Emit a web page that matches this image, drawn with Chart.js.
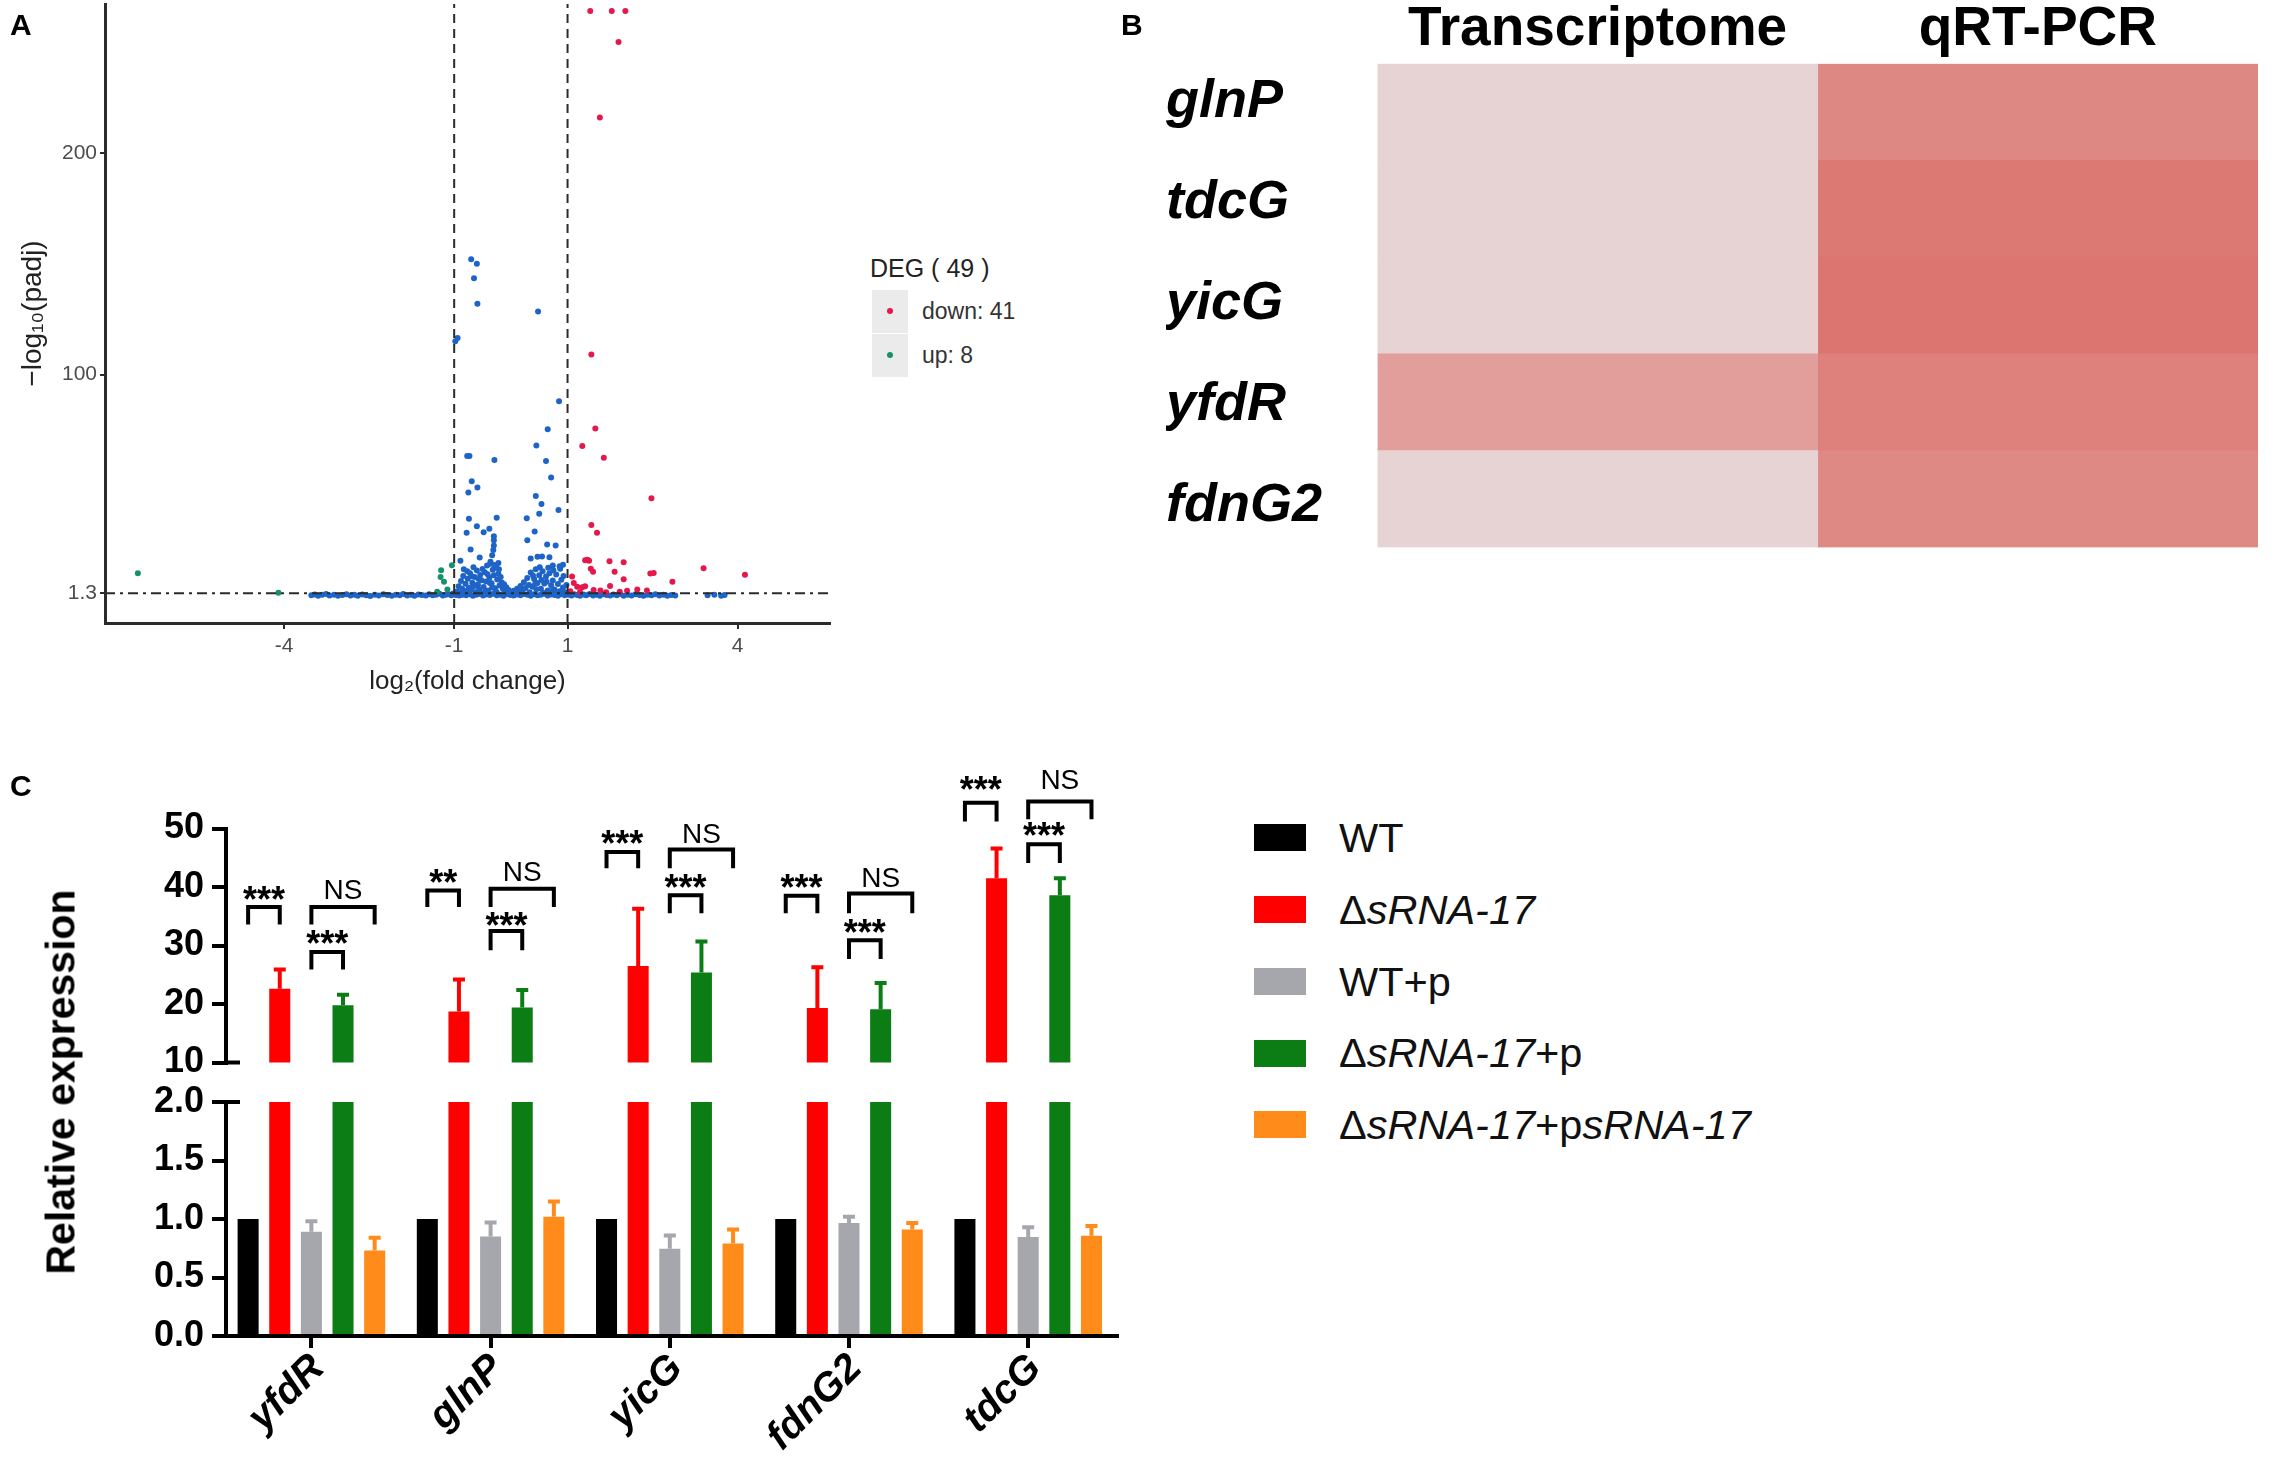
<!DOCTYPE html>
<html>
<head>
<meta charset="utf-8">
<script src="https://cdn.jsdelivr.net/npm/chart.js@4.4.1/dist/chart.umd.min.js"></script>
<style>
  html, body { margin: 0; padding: 0; background: #fff; }
  #page { position: relative; width: 2282px; height: 1480px; overflow: hidden;
          font-family: 'Liberation Sans', Arial, sans-serif; }
  canvas { position: absolute; }
  .tag { position: absolute; font-weight: bold; font-size: 30px; line-height: 1; color: #000; }
  #degLegend { position: absolute; left: 870px; top: 256px; color: #222; }
  #degLegend .title { font-size: 25px; line-height: 1; white-space: nowrap; }
  #degLegend .row { position: absolute; left: 2px; width: 160px; height: 43px; }
  #degLegend .key { position: absolute; left: 0; top: 0; width: 36px; height: 43px; background: #ebebeb; }
  #degLegend .dot { position: absolute; left: 15px; top: 18px; width: 6px; height: 6px; border-radius: 3px; }
  #degLegend .txt { position: absolute; left: 50px; top: 10px; font-size: 23px; line-height: 1; color: #333; white-space: nowrap; }
  #qpcrLegend { position: absolute; left: 1254px; top: 802px; }
  #qpcrLegend .row { display: flex; align-items: center; height: 71.75px; }
  #qpcrLegend .sw { width: 52px; height: 27px; margin-right: 33px; }
  #qpcrLegend .txt { font-size: 41.5px; line-height: 1; color: #111; white-space: nowrap; }
  #yTitleC { position: absolute; left: 61px; top: 1082px; font-weight: bold; font-size: 41px; line-height: 1;
             white-space: nowrap; transform: translate(-50%, -50%) rotate(-90deg); }
</style>
</head>
<body>
<div id="page">
  <canvas id="volcano" width="850" height="720" style="left:0;top:0"></canvas>
  <canvas id="heat" width="1182" height="600" style="left:1100px;top:0"></canvas>
  <canvas id="barTop" width="1140" height="335" style="left:0;top:740px"></canvas>
  <canvas id="barBottom" width="1140" height="405" style="left:0;top:1075px"></canvas>

  <div class="tag" style="left:10px;top:10px">A</div>
  <div class="tag" style="left:1121px;top:10px">B</div>
  <div class="tag" style="left:10px;top:771px">C</div>

  <div id="degLegend"></div>
  <div id="qpcrLegend"></div>
  <div id="yTitleC">Relative expression</div>
</div>

<script>
// ---------- A: volcano plot ----------
const volcanoXTicks = [-4, -1, 1, 4];
const volcanoYTicks = [1.3, 100, 200];
const foldCut = 1;
const padjCut = 1.3;

// red = "down", green = "up", blue = not significant
const volcanoDown = [
  [1.40, 264], [1.78, 264], [2.02, 264], [1.90, 250], [1.57, 216], [1.42, 109], [1.49, 75.7], [1.26, 67.8],
  [1.64, 62.5], [2.48, 44.2], [1.42, 32.1], [1.52, 28.6], [1.31, 16.2], [1.35, 16.4], [1.38, 16.0], [1.74, 15.8],
  [1.99, 15.3], [1.41, 12.4], [1.45, 11.0], [1.83, 11.0], [1.99, 7.6], [2.46, 10.2], [2.52, 10.5], [2.85, 6.5],
  [3.40, 12.6], [4.13, 9.7], [1.75, 4.6], [1.08, 8.9], [1.17, 4.3], [1.26, 4.0], [1.31, 4.5], [1.11, 6.0],
  [1.46, 2.8], [1.58, 2.6], [2.05, 2.5], [2.23, 3.0], [2.40, 2.6], [1.05, 2.2], [1.22, 1.9], [1.68, 1.8], [1.92, 2.0]
];
const volcanoUp = [
  [-6.58, 10.3], [-4.10, 1.5], [-1.23, 11.7], [-1.24, 8.7], [-1.18, 6.5], [-1.04, 14.0], [-1.12, 3.0], [-1.30, 2.0]
];
const volcanoNs = [
  // upper scatter
  [-0.70, 152], [-0.60, 150], [-0.65, 143.5], [-0.59, 132], [-0.94, 116.5], [-0.98, 115], [0.48, 128.5], [0.85, 88],
  [0.65, 75.3], [0.45, 68], [-0.77, 63.3], [-0.73, 63.3], [-0.29, 61.5], [0.62, 61], [0.71, 53.6], [-0.69, 51.9],
  [-0.75, 46.8], [-0.59, 49], [0.44, 45.2], [0.54, 41.6], [0.84, 38.9], [0.50, 37.2], [0.28, 35.2], [-0.74, 34.9],
  [-0.25, 35.4], [-0.60, 31.6], [-0.78, 28.6], [-0.48, 28.9], [-0.38, 30.4], [0.42, 29.2], [-0.30, 27], [-0.30, 25.2],
  [-0.30, 22.9], [-0.31, 20.8], [-0.33, 18.5], [0.29, 25.2], [-0.71, 21.1], [0.64, 23.3], [0.79, 22.9], [-0.55, 17.4],
  [0.47, 17.8], [0.55, 17.9], [0.68, 17.6], [0.35, 17], [-0.89, 16], [-0.36, 15.5], [-0.22, 15], [0.74, 13.8],
  [0.86, 13.5], [0.92, 14.2],
  // dense blob left of zero
  [-0.95, 2.1], [-0.92, 4.5], [-0.90, 1.2], [-0.88, 6.8], [-0.86, 3.3], [-0.84, 9.1], [-0.82, 2.4], [-0.80, 5.6],
  [-0.78, 1.5], [-0.76, 7.9], [-0.74, 3.8], [-0.72, 10.4], [-0.70, 2.9], [-0.68, 6.1], [-0.66, 4.4], [-0.64, 8.7],
  [-0.62, 1.8], [-0.60, 11.6], [-0.58, 5.2], [-0.56, 3.1], [-0.54, 9.6], [-0.52, 7.2], [-0.50, 12.3], [-0.48, 4.1],
  [-0.46, 10.8], [-0.44, 6.6], [-0.42, 13.9], [-0.40, 2.6], [-0.38, 8.3], [-0.36, 14.6], [-0.34, 5.8], [-0.32, 11.9],
  [-0.30, 9.4], [-0.28, 3.6], [-0.26, 12.8], [-0.24, 7.5], [-0.22, 10.1], [-0.20, 4.8], [-0.18, 8.6], [-0.16, 6.2],
  [-0.14, 3.2], [-0.12, 5.4], [-0.10, 2.3], [-0.08, 4.0], [-0.06, 1.7], [-0.04, 2.8], [-0.02, 1.4],
  [-0.83, 12.2], [-0.66, 13.1], [-0.57, 7.7], [-0.45, 2.0], [-0.41, 9.9], [-0.37, 6.0], [-0.33, 3.9], [-0.29, 14.1],
  [-0.25, 1.9], [-0.21, 12.2], [-0.53, 1.6], [-0.61, 4.9], [-0.69, 9.0], [-0.77, 11.3], [-0.87, 0.9],
  // dense blob right of zero
  [0.02, 1.2], [0.05, 2.5], [0.08, 1.6], [0.11, 3.4], [0.14, 2.0], [0.17, 4.6], [0.20, 2.9], [0.23, 6.3],
  [0.26, 3.7], [0.29, 8.2], [0.32, 5.1], [0.35, 10.7], [0.38, 4.3], [0.41, 7.8], [0.44, 12.1], [0.47, 6.0],
  [0.50, 9.5], [0.53, 3.4], [0.56, 11.2], [0.59, 5.7], [0.62, 8.9], [0.65, 2.6], [0.68, 10.3], [0.71, 4.9],
  [0.74, 7.1], [0.77, 3.0], [0.80, 9.8], [0.83, 5.5], [0.86, 2.2], [0.89, 7.4], [0.92, 3.9], [0.95, 1.8], [0.98, 5.0],
  [0.33, 1.8], [0.39, 9.3], [0.45, 3.1], [0.51, 13.0], [0.57, 1.5], [0.63, 6.5], [0.69, 1.9], [0.75, 11.7],
  [0.81, 1.4], [0.87, 12.4], [0.43, 5.6], [0.54, 7.3], [0.66, 12.8], [0.72, 2.3], [0.93, 9.1],
  // baseline band
  [-0.97, 0.5], [-0.91, 0.3], [-0.85, 0.7], [-0.79, 0.4], [-0.73, 0.9], [-0.67, 0.2], [-0.61, 0.6], [-0.55, 1.0],
  [-0.49, 0.3], [-0.43, 0.8], [-0.37, 0.5], [-0.31, 1.1], [-0.25, 0.4], [-0.19, 0.7], [-0.13, 0.2], [-0.07, 0.9],
  [-0.01, 0.5], [0.05, 0.3], [0.11, 0.8], [0.17, 0.4], [0.23, 1.0], [0.29, 0.6], [0.35, 0.2], [0.41, 0.9],
  [0.47, 0.4], [0.53, 0.7], [0.59, 1.1], [0.65, 0.3], [0.71, 0.8], [0.77, 0.5], [0.83, 0.2], [0.89, 0.9], [0.95, 0.4],
  [-3.52, 0.4], [-3.46, 0.8], [-3.40, 0.2], [-3.33, 0.6], [-3.26, 1.0], [-3.20, 0.3], [-3.12, 0.7], [-3.05, 0.2],
  [-2.97, 0.5], [-2.90, 0.9], [-2.83, 0.3], [-2.76, 0.6], [-2.70, 0.2], [-2.62, 0.8], [-2.55, 0.4], [-2.48, 0.1],
  [-2.40, 0.6], [-2.33, 0.3], [-2.25, 0.9], [-2.18, 0.5], [-2.10, 0.2], [-2.03, 0.7], [-1.96, 0.4], [-1.90, 1.0],
  [-1.83, 0.3], [-1.76, 0.6], [-1.70, 0.2], [-1.63, 0.8], [-1.57, 0.5], [-1.50, 0.3], [-1.44, 0.9], [-1.38, 0.4],
  [-1.32, 0.7], [-1.26, 1.1], [-1.20, 0.3], [-1.15, 0.6], [-1.10, 0.9], [-1.05, 0.4], [-1.02, 1.2],
  [1.02, 0.6], [1.07, 0.3], [1.12, 0.9], [1.17, 0.5], [1.22, 0.2], [1.28, 0.8], [1.33, 0.4], [1.39, 1.0],
  [1.45, 0.3], [1.51, 0.7], [1.57, 0.2], [1.63, 0.9], [1.69, 0.5], [1.75, 0.3], [1.81, 0.8], [1.87, 0.4],
  [1.93, 1.0], [1.99, 0.2], [2.06, 0.6], [2.13, 0.3], [2.20, 0.9], [2.27, 0.5], [2.34, 0.2], [2.41, 0.7],
  [2.48, 0.4], [2.55, 0.9], [2.62, 0.3], [2.69, 0.6], [2.76, 0.2], [2.83, 0.5], [2.90, 0.3],
  [3.47, 0.4], [3.59, 0.6], [3.71, 0.2], [3.77, 0.5]
];

// ---------- B: heatmap ----------
const heatGenes = ['glnP', 'tdcG', 'yicG', 'yfdR', 'fdnG2'];
const heatColumns = ['Transcriptome', 'qRT-PCR'];
const heatTranscriptome = [0.03, 0.03, 0.03, 0.51, 0.03];
const heatQpcr = [0.71, 0.85, 0.89, 0.78, 0.70];

// ---------- C: relative expression ----------
const geneOrder = ['yfdR', 'glnP', 'yicG', 'fdnG2', 'tdcG'];
const seriesNames = ['WT', 'ΔsRNA-17', 'WT+p', 'ΔsRNA-17+p', 'ΔsRNA-17+psRNA-17'];
const meanWT = [1, 1, 1, 1, 1];
const meanMut = [22.6, 18.7, 26.5, 19.3, 41.5];
const meanWTp = [0.89, 0.85, 0.745, 0.966, 0.846];
const meanMutP = [19.8, 19.4, 25.4, 19.1, 38.6];
const meanComp = [0.73, 1.02, 0.79, 0.91, 0.857];
const errWT = [0, 0, 0, 0, 0];
const errMut = [3.3, 5.5, 9.8, 7.0, 5.1];
const errWTp = [0.09, 0.12, 0.115, 0.054, 0.084];
const errMutP = [1.8, 3.0, 5.3, 4.5, 2.9];
const errComp = [0.11, 0.13, 0.12, 0.056, 0.083];
const upperTicks = [10, 20, 30, 40, 50];
const lowerTicks = [0, 0.5, 1, 1.5, 2];
// gene, from series, to series, bracket top, leg end, label centre, label
const brackets = [
  [0, 0, 1, 36.6, 33.6, 39.0, '***'], [0, 2, 3, 28.9, 25.9, 31.4, '***'], [0, 2, 4, 36.6, 33.6, 39.6, 'NS'],
  [1, 0, 1, 39.4, 36.6, 41.8, '**'],  [1, 2, 3, 32.5, 29.2, 34.6, '***'], [1, 2, 4, 39.7, 36.6, 42.6, 'NS'],
  [2, 0, 1, 46.0, 43.2, 48.6, '***'], [2, 2, 3, 38.6, 35.5, 41.0, '***'], [2, 2, 4, 46.4, 43.2, 49.2, 'NS'],
  [3, 0, 1, 38.5, 35.5, 41.0, '***'], [3, 2, 3, 30.9, 27.7, 33.3, '***'], [3, 2, 4, 38.9, 35.5, 41.6, 'NS'],
  [4, 0, 1, 54.4, 51.2, 57.8, '***'], [4, 2, 3, 47.3, 44.1, 49.9, '***'], [4, 2, 4, 54.6, 51.6, 58.4, 'NS']
];

const seriesMeans = [meanWT, meanMut, meanWTp, meanMutP, meanComp];
const seriesErrors = [errWT, errMut, errWTp, errMutP, errComp];
const seriesColors = ['#000000', '#ff0000', '#a6a6ad', '#0b7d14', '#ff8c1a'];

Chart.defaults.font.family = "'Liberation Sans', Arial, sans-serif";
Chart.defaults.color = '#000';
Chart.defaults.animation = false;
Chart.defaults.plugins.legend.display = false;
Chart.defaults.plugins.tooltip.enabled = false;

// fixed axis box sizes so chart areas land where the figure has them
function fixSize(prop, px) {
  return function (scale) {
    scale[prop] = px;
    scale.paddingLeft = scale.paddingRight = scale.paddingTop = scale.paddingBottom = 0;
  };
}
function setTicks(values) {
  return function (scale) { scale.ticks = values.map(v => ({ value: v })); };
}
const toXY = pts => pts.map(p => ({ x: p[0], y: p[1] }));

// ---------- draw A ----------
const vxMin = -7.16, vxMax = 5.63, vyMin = -12.1, vyMax = 267.2;
const cutLine = (pts, dash) => ({
  type: 'line', data: pts, borderColor: '#2b2b2b', borderWidth: 2, borderDash: dash,
  pointRadius: 0, fill: false, order: 0
});
const dots = (pts, color, order) => ({
  data: toXY(pts), backgroundColor: color, pointRadius: 3, pointBorderWidth: 0, order: order
});

new Chart(document.getElementById('volcano'), {
  type: 'scatter',
  data: {
    datasets: [
      cutLine([{ x: -foldCut, y: vyMin }, { x: -foldCut, y: vyMax }], [9, 6]),
      cutLine([{ x: foldCut, y: vyMin }, { x: foldCut, y: vyMax }], [9, 6]),
      cutLine([{ x: vxMin, y: padjCut }, { x: vxMax, y: padjCut }], [10, 5, 3, 5]),
      dots(volcanoDown, '#e3194b', 1),
      dots(volcanoUp, '#17916a', 1),
      dots(volcanoNs, '#1e64c6', 2)
    ]
  },
  options: {
    responsive: false,
    layout: { padding: { left: 0, top: 0, right: 20, bottom: 0 } },
    scales: {
      x: {
        type: 'linear', min: vxMin, max: vxMax,
        afterBuildTicks: setTicks(volcanoXTicks), afterFit: fixSize('height', 97),
        border: { color: '#2b2b2b', width: 3 },
        grid: { drawOnChartArea: false, color: '#2b2b2b', lineWidth: 2, tickLength: 6 },
        ticks: { color: '#4d4d4d', font: { size: 21 }, padding: 5 },
        title: { display: true, text: 'log₂(fold change)', color: '#222', font: { size: 26 }, padding: { top: 0, bottom: 23 } }
      },
      y: {
        type: 'linear', min: vyMin, max: vyMax,
        afterBuildTicks: setTicks(volcanoYTicks), afterFit: fixSize('width', 105),
        border: { color: '#2b2b2b', width: 3 },
        grid: { drawOnChartArea: false, color: '#2b2b2b', lineWidth: 2, tickLength: 5 },
        ticks: { color: '#4d4d4d', font: { size: 21 }, padding: 3 },
        title: { display: true, text: '−log₁₀(padj)', color: '#222', font: { size: 28 }, padding: { top: 16, bottom: 0 } }
      }
    }
  }
});

// DEG legend
(function () {
  const box = document.getElementById('degLegend');
  const total = volcanoDown.length + volcanoUp.length;
  let html = '<div class="title">DEG ( ' + total + ' )</div>';
  [['down', volcanoDown.length, '#e3194b'], ['up', volcanoUp.length, '#17916a']].forEach((r, i) => {
    html += '<div class="row" style="top:' + (34 + i * 44) + 'px"><div class="key"><div class="dot" style="background:' +
      r[2] + '"></div></div><div class="txt">' + r[0] + ': ' + r[1] + '</div></div>';
  });
  box.innerHTML = html;
})();

// ---------- draw B ----------
const heatLow = [231, 214, 214];
const heatHigh = [219, 104, 98];
function heatColor(t) {
  return 'rgb(' + heatLow.map((c, k) => Math.round(c + (heatHigh[k] - c) * t)).join(',') + ')';
}
const heatValues = [heatTranscriptome, heatQpcr];

new Chart(document.getElementById('heat'), {
  type: 'bar',
  data: {
    labels: heatGenes,
    datasets: heatColumns.map((col, c) => ({
      label: col,
      data: heatGenes.map(() => [c, c + 1]),
      backgroundColor: heatValues[c].map(heatColor),
      borderWidth: 0, barPercentage: 1, categoryPercentage: 1, grouped: false
    }))
  },
  options: {
    indexAxis: 'y',
    responsive: false,
    layout: { padding: { left: 66, top: 0, right: 24, bottom: 52.6 } },
    scales: {
      x: {
        type: 'linear', position: 'top', min: 0, max: heatColumns.length,
        afterBuildTicks: setTicks(heatColumns.map((_, c) => c + 0.5)),
        afterFit: fixSize('height', 63.7),
        ticks: { callback: v => heatColumns[Math.floor(v)], font: { size: 55, weight: 'bold' }, color: '#000',
                 padding: 1, maxRotation: 0, autoSkip: false },
        grid: { display: false, drawTicks: false }, border: { display: false }
      },
      // rows of cells
      y: { display: false },
      // gene names, spread a little wider than the rows as in the figure
      yLabel: {
        axis: 'y', type: 'linear', position: 'left', reverse: true, offset: false,
        min: -0.378, max: heatGenes.length - 1 + 0.404,
        afterBuildTicks: setTicks(heatGenes.map((_, i) => i)),
        afterFit: fixSize('width', 211.5),
        ticks: { callback: v => heatGenes[v], font: { size: 54, weight: 'bold', style: 'italic' }, color: '#000',
                 crossAlign: 'far', padding: 0, autoSkip: false },
        grid: { display: false, drawTicks: false, offset: false }, border: { display: false }
      }
    }
  }
});

// ---------- draw C ----------
const cxMin = -0.4765, cxMax = 4.4955;
const geneTicks = geneOrder.map((_, i) => i);

function barDatasets() {
  return seriesNames.map((name, s) => ({
    label: name,
    data: seriesMeans[s].map((v, i) => ({ x: i, y: v })),
    errors: seriesErrors[s],
    backgroundColor: seriesColors[s],
    borderWidth: 0,
    categoryPercentage: 0.8827,
    barPercentage: 0.6646,
    clip: 0
  }));
}

const errorBarPlugin = {
  id: 'errorBars',
  afterDatasetsDraw(chart) {
    const { ctx, chartArea, scales: { y } } = chart;
    ctx.save();
    ctx.beginPath();
    ctx.rect(chartArea.left, chartArea.top - 2, chartArea.right - chartArea.left, chartArea.bottom - chartArea.top + 2);
    ctx.clip();
    chart.data.datasets.forEach((ds, i) => {
      chart.getDatasetMeta(i).data.forEach((bar, j) => {
        const err = ds.errors[j];
        if (!err) return;
        const mean = ds.data[j].y;
        const yMean = y.getPixelForValue(mean);
        const yTop = y.getPixelForValue(mean + err);
        ctx.strokeStyle = ds.backgroundColor;
        ctx.lineWidth = 4;
        ctx.beginPath();
        ctx.moveTo(bar.x, yMean);
        ctx.lineTo(bar.x, yTop);
        ctx.moveTo(bar.x - 6, yTop);
        ctx.lineTo(bar.x + 6, yTop);
        ctx.stroke();
      });
    });
    ctx.restore();
  }
};

function axisBreakPlugin(value) {
  return {
    id: 'axisBreak',
    afterDraw(chart) {
      const { ctx, chartArea, scales: { y } } = chart;
      const py = y.getPixelForValue(value);
      ctx.save();
      ctx.strokeStyle = '#000';
      ctx.lineWidth = 4;
      ctx.beginPath();
      ctx.moveTo(chartArea.left, py);
      ctx.lineTo(chartArea.left + 14, py);
      ctx.stroke();
      ctx.restore();
    }
  };
}

const bracketPlugin = {
  id: 'brackets',
  afterDraw(chart) {
    const { ctx, scales: { y } } = chart;
    ctx.save();
    ctx.strokeStyle = '#000';
    ctx.fillStyle = '#000';
    ctx.lineWidth = 4;
    ctx.lineJoin = 'miter';
    brackets.forEach(([g, a, b, top, leg, mid, label]) => {
      const x1 = chart.getDatasetMeta(a).data[g].x;
      const x2 = chart.getDatasetMeta(b).data[g].x;
      const yTop = y.getPixelForValue(top);
      const yLeg = y.getPixelForValue(leg);
      ctx.beginPath();
      ctx.moveTo(x1, yLeg);
      ctx.lineTo(x1, yTop);
      ctx.lineTo(x2, yTop);
      ctx.lineTo(x2, yLeg);
      ctx.stroke();
      ctx.font = label === 'NS' ? "28px 'Liberation Sans', Arial" : "bold 36px 'Liberation Sans', Arial";
      ctx.textAlign = 'center';
      ctx.textBaseline = 'alphabetic';
      const m = ctx.measureText(label);
      ctx.fillText(label, (x1 + x2) / 2,
        y.getPixelForValue(mid) + (m.actualBoundingBoxAscent - m.actualBoundingBoxDescent) / 2);
    });
    ctx.restore();
  }
};

const yTickFont = { size: 36, weight: 'bold' };
const yAxisStyle = {
  ticks: { font: yTickFont, color: '#000', padding: 8 },
  grid: { drawOnChartArea: false, color: '#000', lineWidth: 4, tickLength: 14 },
  border: { color: '#000', width: 4 },
  afterFit: fixSize('width', 226)
};

// upper part of the broken axis (10 - 50)
new Chart(document.getElementById('barTop'), {
  type: 'bar',
  data: { datasets: barDatasets() },
  plugins: [errorBarPlugin, bracketPlugin, axisBreakPlugin(upperTicks[0])],
  options: {
    responsive: false,
    layout: { padding: { left: 0, top: 88.5, right: 23, bottom: 12.5 } },
    scales: {
      x: {
        type: 'linear', min: cxMin, max: cxMax, offset: false,
        afterBuildTicks: setTicks(geneTicks), afterFit: fixSize('height', 0),
        ticks: { display: false }, grid: { display: false, drawTicks: false, offset: false }, border: { display: false }
      },
      y: Object.assign({
        type: 'linear', min: upperTicks[0], max: upperTicks[upperTicks.length - 1],
        afterBuildTicks: setTicks(upperTicks)
      }, yAxisStyle)
    }
  }
});

// lower part of the broken axis (0 - 2)
new Chart(document.getElementById('barBottom'), {
  type: 'bar',
  data: { datasets: barDatasets() },
  plugins: [errorBarPlugin, axisBreakPlugin(lowerTicks[lowerTicks.length - 1])],
  options: {
    responsive: false,
    layout: { padding: { left: 0, top: 27, right: 23, bottom: 0 } },
    scales: {
      x: {
        type: 'linear', min: cxMin, max: cxMax, offset: false,
        afterBuildTicks: setTicks(geneTicks), afterFit: fixSize('height', 144),
        ticks: { callback: v => geneOrder[v], font: { size: 40, weight: 'bold', style: 'italic' }, color: '#000',
                 minRotation: 45, maxRotation: 45, autoSkip: false, padding: -3, labelOffset: 7 },
        grid: { drawOnChartArea: false, color: '#000', lineWidth: 4, tickLength: 12, offset: false },
        border: { color: '#000', width: 4 }
      },
      y: Object.assign({
        type: 'linear', min: lowerTicks[0], max: lowerTicks[lowerTicks.length - 1],
        afterBuildTicks: setTicks(lowerTicks)
      }, yAxisStyle, {
        ticks: { font: yTickFont, color: '#000', padding: 8, callback: v => v.toFixed(1) }
      })
    }
  }
});

// panel C legend
(function () {
  const box = document.getElementById('qpcrLegend');
  box.innerHTML = seriesNames.map((name, s) =>
    '<div class="row"><div class="sw" style="background:' + seriesColors[s] + '"></div><div class="txt">' +
    name.replace(/sRNA-17/g, '<i>sRNA-17</i>') + '</div></div>').join('');
})();
</script>
</body>
</html>
